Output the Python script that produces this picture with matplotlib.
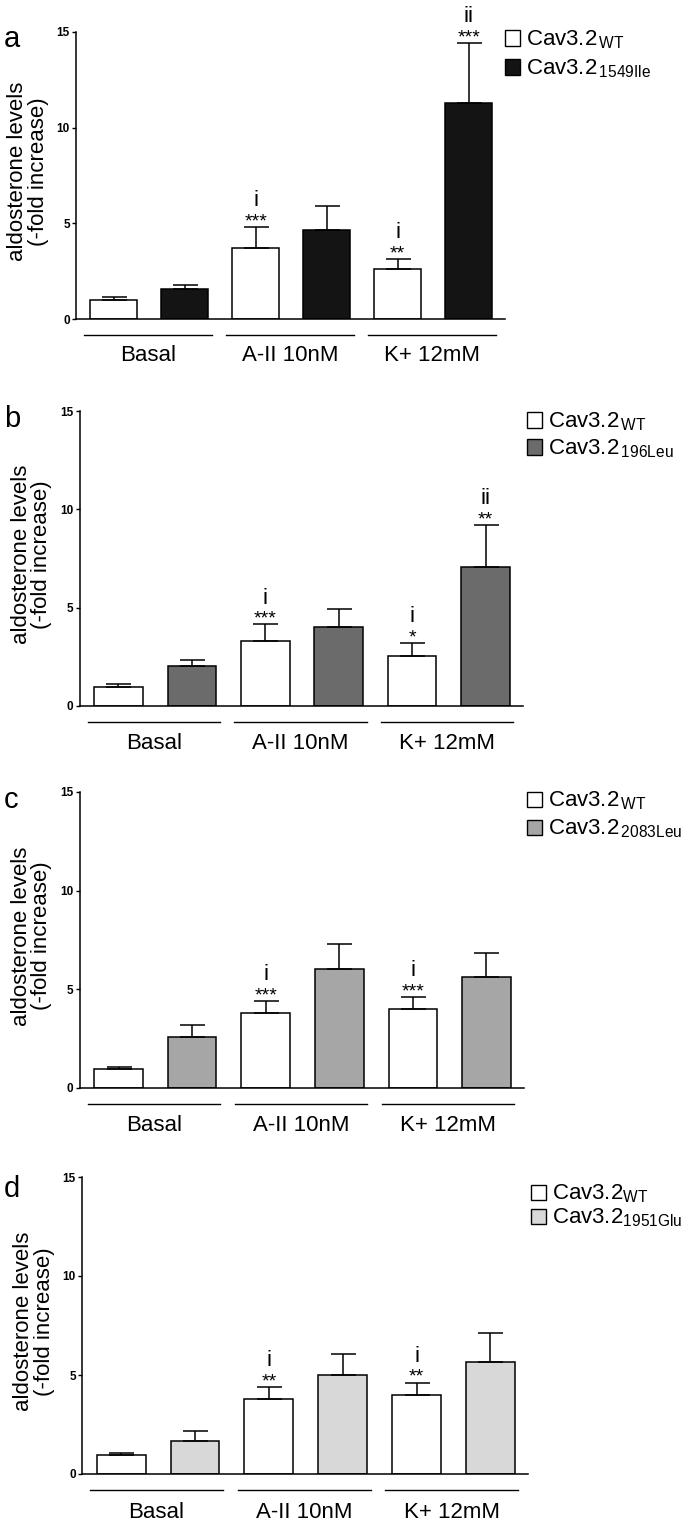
import numpy as np
import matplotlib
matplotlib.use("Agg")
import matplotlib.pyplot as plt
from matplotlib.patches import Rectangle
from matplotlib.transforms import blended_transform_factory

plt.rcParams['font.family'] = ['Liberation Sans', 'DejaVu Sans']
plt.rcParams['mathtext.fontset'] = 'custom'
plt.rcParams['mathtext.rm'] = 'Liberation Sans'
plt.rcParams['mathtext.it'] = 'Liberation Sans:italic'
plt.rcParams['mathtext.bf'] = 'Liberation Sans:bold'

# ---- data ----
groups = ['Basal', 'A-II 10nM', 'K+ 12mM']
letters = ['a', 'b', 'c', 'd']
mutants = ['1549Ile', '196Leu', '2083Leu', '1951Glu']
mut_colors = ['#141414', '#6b6b6b', '#a6a6a6', '#d8d8d8']

wt_mean = [[1.01, 3.73, 2.62],
           [0.97, 3.30, 2.56],
           [0.96, 3.78, 4.00],
           [0.97, 3.80, 4.00]]
wt_err = [[0.14, 1.07, 0.52],
          [0.13, 0.85, 0.64],
          [0.11, 0.64, 0.62],
          [0.09, 0.60, 0.62]]
mut_mean = [[1.55, 4.66, 11.29],
            [2.02, 4.02, 7.07],
            [2.59, 6.04, 5.64],
            [1.65, 5.00, 5.68]]
mut_err = [[0.25, 1.24, 3.14],
           [0.30, 0.90, 2.15],
           [0.59, 1.26, 1.22],
           [0.50, 1.06, 1.42]]

# (series 0=WT 1=mutant, group index, upper mark, stars)
marks = [[(0, 1, 'i', '***'), (0, 2, 'i', '**'), (1, 2, 'ii', '***')],
         [(0, 1, 'i', '***'), (0, 2, 'i', '*'), (1, 2, 'ii', '**')],
         [(0, 1, 'i', '***'), (0, 2, 'i', '***')],
         [(0, 1, 'i', '**'), (0, 2, 'i', '**')]]

# ---- layout (pixels) ----
W, H = 689, 1523
boxes = [(76, 505, 32, 319), (79.5, 523, 411, 706),
         (79.5, 524, 792, 1088), (82, 528, 1177, 1474)]
letter_pos = [(4, 47), (4, 427), (4, 808), (4, 1197)]
legend_pos = [(505, 38, 29, ' '), (527, 420, 27, ' '),
              (527, 799, 28, ' '), (531, 1192, 24, '')]

fig = plt.figure(figsize=(W / 100, H / 100), dpi=100)
tick_font = ['Liberation Sans Narrow', 'Liberation Sans', 'DejaVu Sans']

for p in range(4):
    l, r, t, b = boxes[p]
    ax = fig.add_axes([l / W, 1 - b / H, (r - l) / W, (b - t) / H])
    x_wt = np.arange(3) * 2
    x_mut = x_wt + 1
    width = 0.66
    ax.bar(x_wt, wt_mean[p], width, color='white', edgecolor='black',
           linewidth=1.1, zorder=2)
    ax.bar(x_mut, mut_mean[p], width, color=mut_colors[p], edgecolor='black',
           linewidth=1.1, zorder=2)
    for xs, m, e in [(x_wt, wt_mean[p], wt_err[p]), (x_mut, mut_mean[p], mut_err[p])]:
        ax.errorbar(xs, m, yerr=[np.zeros(3), e], fmt='none', ecolor='black',
                    elinewidth=1.1, capsize=9, capthick=1.1, zorder=3)

    for s, g, up, st in marks[p]:
        xv = 2 * g + s
        top = (wt_mean, mut_mean)[s][p][g] + (wt_err, mut_err)[s][p][g]
        ax.annotate(st, (xv, top), xytext=(0, 0.5), textcoords='offset points',
                    ha='center', va='baseline', fontsize=14)
        ax.annotate(up, (xv, top), xytext=(0, 15), textcoords='offset points',
                    ha='center', va='baseline', fontsize=16)

    ax.set_xlim(-0.53, 5.51)
    ax.set_ylim(0, 15)
    ax.set_yticks([0, 5, 10, 15])
    ax.set_xticks([])
    for sp in ['top', 'right']:
        ax.spines[sp].set_visible(False)
    for sp in ['left', 'bottom']:
        ax.spines[sp].set_linewidth(1.1)
    ax.tick_params(axis='y', length=3, width=1, pad=1.5)
    for lab in ax.get_yticklabels():
        lab.set_family(tick_font)
        lab.set_fontweight('bold')
        lab.set_fontsize(8.5)

    trans = blended_transform_factory(ax.transData, ax.transAxes)
    for g, name in enumerate(groups):
        ax.plot([2 * g - 0.42, 2 * g + 1.38], [-0.055, -0.055], color='black',
                lw=1.0, transform=trans, clip_on=False)
        ax.text(2 * g + 0.48, -0.128, name, transform=trans, ha='center',
                va='center', fontsize=16)

    # y label
    fig.text((l - 48) / W, 1 - ((t + b) / 2 - 4) / H,
             'aldosterone levels\n(-fold increase)', rotation=90,
             ha='center', va='center', fontsize=16, linespacing=0.95,
             multialignment='center')

    # panel letter
    lx, ly = letter_pos[p]
    fig.text(lx / W, 1 - ly / H, letters[p], fontsize=21, va='baseline')

    # legend
    bx, by, dy, gap = legend_pos[p]
    entries = [('white', r'Cav3.2$_{\mathrm{' + gap.replace(' ', r'\,') + 'WT}}$'),
               (mut_colors[p], r'Cav3.2$_{\mathrm{' + gap.replace(' ', r'\,') + mutants[p] + '}}$')]
    for k, (fc, txt) in enumerate(entries):
        yc = by + k * dy
        fig.patches.append(Rectangle((bx / W, 1 - (yc + 7.5) / H), 15 / W, 15 / H,
                                     transform=fig.transFigure, facecolor=fc,
                                     edgecolor='black', lw=1.0))
        fig.text((bx + 21) / W, 1 - (yc + 7.5) / H, txt, fontsize=16,
                 va='baseline', ha='left')

fig.savefig('out.png', dpi=100)
